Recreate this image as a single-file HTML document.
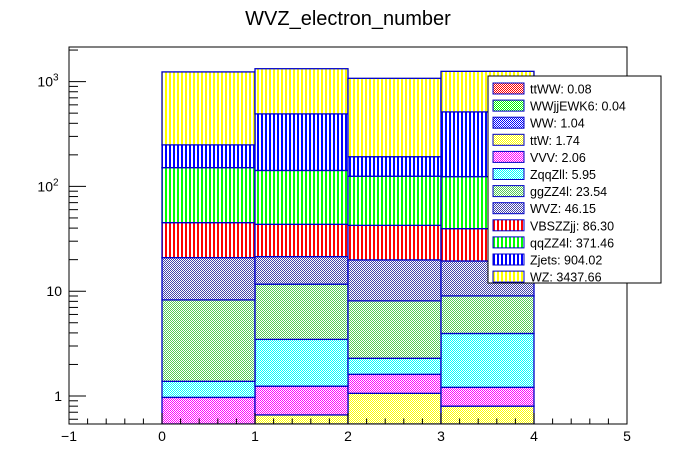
<!DOCTYPE html>
<html><head><meta charset="utf-8">
<style>
html,body{margin:0;padding:0;background:#fff;}
svg{display:block;font-family:"Liberation Sans",Arial,sans-serif;}
</style></head>
<body>
<svg id="chart" width="696" height="472" viewBox="0 0 696 472">
<defs>
<pattern id="chk-red" width="2" height="2" patternUnits="userSpaceOnUse"><rect width="2" height="2" fill="#fff"/><rect width="1" height="1" fill="#f00"/><rect x="1" y="1" width="1" height="1" fill="#f00"/></pattern>
<pattern id="chk-green" width="2" height="2" patternUnits="userSpaceOnUse"><rect width="2" height="2" fill="#fff"/><rect width="1" height="1" fill="#0f0"/><rect x="1" y="1" width="1" height="1" fill="#0f0"/></pattern>
<pattern id="chk-blue" width="2" height="2" patternUnits="userSpaceOnUse"><rect width="2" height="2" fill="#fff"/><rect width="1" height="1" fill="#00f"/><rect x="1" y="1" width="1" height="1" fill="#00f"/></pattern>
<pattern id="chk-yellow" width="2" height="2" patternUnits="userSpaceOnUse"><rect width="2" height="2" fill="#fff"/><rect width="1" height="1" fill="#ff0"/><rect x="1" y="1" width="1" height="1" fill="#ff0"/></pattern>
<pattern id="chk-magenta" width="2" height="2" patternUnits="userSpaceOnUse"><rect width="2" height="2" fill="#fff"/><rect width="1" height="1" fill="#f0f"/><rect x="1" y="1" width="1" height="1" fill="#f0f"/></pattern>
<pattern id="chk-cyan" width="2" height="2" patternUnits="userSpaceOnUse"><rect width="2" height="2" fill="#fff"/><rect width="1" height="1" fill="#0ff"/><rect x="1" y="1" width="1" height="1" fill="#0ff"/></pattern>
<pattern id="chk-lgreen" width="2" height="2" patternUnits="userSpaceOnUse"><rect width="2" height="2" fill="#fff"/><rect width="1" height="1" fill="#5c5"/><rect x="1" y="1" width="1" height="1" fill="#5c5"/></pattern>
<pattern id="chk-slate" width="2" height="2" patternUnits="userSpaceOnUse"><rect width="2" height="2" fill="#fff"/><rect width="1" height="1" fill="#44a"/><rect x="1" y="1" width="1" height="1" fill="#44a"/></pattern>
<pattern id="vl-red" width="4" height="4" patternUnits="userSpaceOnUse"><rect width="4" height="4" fill="#fff"/><rect x="1" width="2" height="4" fill="#f00"/></pattern>
<pattern id="vl-green" width="4" height="4" patternUnits="userSpaceOnUse"><rect width="4" height="4" fill="#fff"/><rect x="1" width="2" height="4" fill="#0f0"/></pattern>
<pattern id="vl-blue" width="4" height="4" patternUnits="userSpaceOnUse"><rect width="4" height="4" fill="#fff"/><rect x="1" width="2" height="4" fill="#00f"/></pattern>
<pattern id="vl-yellow" width="4" height="4" patternUnits="userSpaceOnUse"><rect width="4" height="4" fill="#fff"/><rect x="1" width="2" height="4" fill="#ff0"/></pattern>
<clipPath id="frameclip"><rect x="69" y="47" width="558" height="377"/></clipPath>
</defs>
<text x="348" y="25" text-anchor="middle" font-size="20">WVZ_electron_number</text>
<g id="bars" clip-path="url(#frameclip)"></g>
<g id="axes"></g>
<g id="legend"></g>
</svg>
<script>
const binEdges = [0, 1, 2, 3, 4];
const seriesNames = ["ttWW","WWjjEWK6","WW","ttW","VVV","ZqqZll","ggZZ4l","WVZ","VBSZZjj","qqZZ4l","Zjets","WZ"];
const legendValues = ["0.08","0.04","1.04","1.74","2.06","5.95","23.54","46.15","86.30","371.46","904.02","3437.66"];
const ttWW = [0.02, 0.02, 0.02, 0.02];
const WWjjEWK6 = [0.01, 0.01, 0.01, 0.01];
const WW = [0.26, 0.26, 0.26, 0.26];
const ttW = [0.0, 0.37, 0.77, 0.51];
const VVV = [0.68, 0.58, 0.55, 0.41];
const ZqqZll = [0.41, 2.23, 0.68, 2.74];
const ggZZ4l = [6.88, 8.2, 5.8, 5.07];
const WVZ = [12.64, 9.7, 11.8, 10.4];
const VBSZZjj = [24.2, 22.1, 22.6, 20.1];
const qqZZ4l = [105.9, 98.5, 82.5, 84.5];
const Zjets = [98, 350, 67, 390];
const WZ = [988, 835, 883, 739];
const seriesData = [ttWW, WWjjEWK6, WW, ttW, VVV, ZqqZll, ggZZ4l, WVZ, VBSZZjj, qqZZ4l, Zjets, WZ];
const fills = ["chk-red","chk-green","chk-blue","chk-yellow","chk-magenta","chk-cyan","chk-lgreen","chk-slate","vl-red","vl-green","vl-blue","vl-yellow"];
const xTicks = [-1, 0, 1, 2, 3, 4, 5];

const NS = "http://www.w3.org/2000/svg";
const X0 = 69, X1 = 627, Y0 = 47, Y1 = 424;
const XMIN = -1, XMAX = 5;
const Y_ONE = 396, DEC = 104.8;
const YMIN = Math.pow(10, (Y_ONE - Y1) / DEC);
function xs(v){ return X0 + (v - XMIN) / (XMAX - XMIN) * (X1 - X0); }
function ys(v){ return Y_ONE - Math.log10(Math.max(v, 1e-6)) * DEC; }
function mk(tag, attrs, parent){ const e = document.createElementNS(NS, tag); for (const k in attrs) e.setAttribute(k, attrs[k]); parent.appendChild(e); return e; }

const bars = document.getElementById('bars');
const cum = binEdges.slice(0, -1).map(() => 0);
seriesData.forEach((s, si) => {
  for (let b = 0; b < binEdges.length - 1; b++) {
    const lo = cum[b], hi = cum[b] + s[b];
    cum[b] = hi;
    if (hi <= YMIN || s[b] <= 0) continue;
    const yTop = ys(hi), yBot = Math.min(ys(Math.max(lo, YMIN)), Y1 + 2);
    const r = mk('rect', {x: xs(binEdges[b]), y: yTop, width: xs(binEdges[b+1]) - xs(binEdges[b]), height: yBot - yTop, fill: 'url(#' + fills[si] + ')', stroke: '#0000c8', 'stroke-width': 1.3}, bars);
    
    
  }
});

const axes = document.getElementById('axes');
const frame = mk('rect', {x: X0, y: Y0, width: X1 - X0, height: Y1 - Y0, fill: 'none', stroke: '#000', 'stroke-width': 1}, axes);


for (let v = XMIN; v <= XMAX + 1e-9; v += 0.2) {
  const major = Math.abs(v - Math.round(v)) < 1e-6;
  const x = xs(v);
  mk('line', {x1: x, x2: x, y1: Y1, y2: Y1 - (major ? 11 : 5.5), stroke: '#000', 'stroke-width': 1}, axes);
}
xTicks.forEach(v => {
  const t = mk('text', {x: xs(v), y: Y1 + 17, 'text-anchor': 'middle', 'font-size': 14}, axes);
  t.textContent = v < 0 ? '\u2212' + Math.abs(v) : String(v);
  
  
});
for (let d = -1; d <= 3; d++) {
  for (let m = 1; m <= 9; m++) {
    const v = m * Math.pow(10, d);
    const y = ys(v);
    if (y < Y0 || y > Y1) continue;
    mk('line', {x1: X0, x2: X0 + (m === 1 ? 17 : 9), y1: y, y2: y, stroke: '#000', 'stroke-width': 1}, axes);
  }
}
const yLabels = [[1, '1'], [10, '10'], [100, '10', '2'], [1000, '10', '3']];
yLabels.forEach(l => {
  const y = ys(l[0]);
  const t = mk('text', {x: l[2] ? X0 - 16 : X0 - 7, y: y + 5, 'text-anchor': 'end', 'font-size': 14}, axes);
  t.textContent = l[1];
  
  
  if (l[2]) {
    const s = mk('text', {x: X0 - 16, y: y - 1, 'font-size': 10}, axes);
    s.textContent = l[2];
    
    
  }
});

const lg = document.getElementById('legend');
const box = mk('rect', {x: 488, y: 76, width: 173, height: 207, fill: '#fff', stroke: '#000', 'stroke-width': 1}, lg);


seriesNames.forEach((n, i) => {
  const y = 83 + i * 17.1;
  const sw = mk('rect', {x: 493, y: y, width: 31, height: 11, fill: 'url(#' + fills[i] + ')', stroke: '#0000c8', 'stroke-width': 1}, lg);
  
  
  const t = mk('text', {x: 530, y: y + 10.5, 'font-size': 12.5}, lg);
  t.textContent = n + ': ' + legendValues[i];
  
  
});
</script>
</body></html>
